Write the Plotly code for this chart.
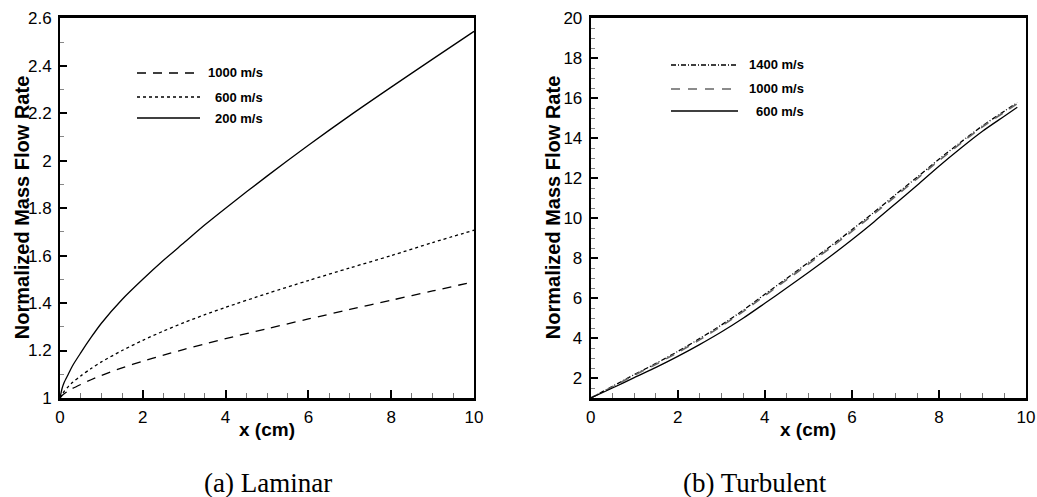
import plotly.graph_objects as go

# ---------------- data ----------------
# (a) Laminar
lam_x = [0, 0.05, 0.1, 0.2, 0.3, 0.5, 0.75, 1, 1.5, 2, 2.5, 3, 3.5, 4, 5, 6, 7, 8, 9, 10]
lam_200 = [1.0, 1.04, 1.065, 1.10, 1.135, 1.19, 1.255, 1.315, 1.415, 1.50, 1.58, 1.655,
           1.73, 1.80, 1.935, 2.065, 2.19, 2.31, 2.428, 2.545]
lam_600 = [1.0, 1.015, 1.028, 1.048, 1.065, 1.093, 1.124, 1.152, 1.20, 1.243, 1.282, 1.318,
           1.351, 1.382, 1.44, 1.495, 1.548, 1.60, 1.655, 1.707]
lam_1000 = [1.0, 1.01, 1.018, 1.03, 1.04, 1.057, 1.077, 1.095, 1.127, 1.155, 1.181, 1.205,
            1.228, 1.25, 1.292, 1.333, 1.373, 1.412, 1.451, 1.49]

# (b) Turbulent
tur_x = [0, 0.5, 1, 1.5, 2, 2.5, 3, 3.5, 4, 4.5, 5, 5.5, 6, 6.5, 7, 7.5, 8, 8.5, 9, 9.5, 9.8]
tur_600 = [1.0, 1.5, 2.02, 2.53, 3.08, 3.67, 4.3, 4.99, 5.74, 6.5, 7.28, 8.08, 8.92,
           9.8, 10.72, 11.65, 12.6, 13.5, 14.35, 15.1, 15.55]
tur_1000 = [1.0, 1.56, 2.14, 2.69, 3.28, 3.91, 4.59, 5.32, 6.12, 6.91, 7.70, 8.50, 9.34,
            10.20, 11.09, 11.98, 12.88, 13.74, 14.57, 15.30, 15.73]
tur_1400 = [1.0, 1.58, 2.17, 2.73, 3.33, 3.97, 4.65, 5.39, 6.19, 6.98, 7.78, 8.58, 9.42,
            10.28, 11.17, 12.05, 12.95, 13.8, 14.62, 15.35, 15.78]

lam_labels = ["1000 m/s", "600 m/s", "200 m/s"]
tur_labels = ["1400 m/s", "1000 m/s", "600 m/s"]
x_title = "x (cm)"
y_title = "Normalized Mass Flow Rate"
captions = ["(a) Laminar", "(b) Turbulent"]

# ---------------- styling ----------------
W, H = 1037, 497
def px_x(p):
    return p / W
def px_y(p):
    return 1 - p / H

FONT = "Liberation Sans, Arial, sans-serif"
SERIF = "Liberation Serif, Times New Roman, serif"
LW = 1.3

styles_lam = {
    "1000 m/s": dict(color="black", width=LW, dash="9px,7px"),
    "600 m/s": dict(color="black", width=LW, dash="3px,3px"),
    "200 m/s": dict(color="black", width=LW, dash="solid"),
}
styles_tur = {
    "1400 m/s": dict(color="black", width=LW, dash="5px,2px,1px,2px"),
    "1000 m/s": dict(color="#666666", width=1.6, dash="9px,8px"),
    "600 m/s": dict(color="black", width=LW, dash="solid"),
}

fig = go.Figure()
for lab, ys in zip(lam_labels, [lam_1000, lam_600, lam_200]):
    fig.add_trace(go.Scatter(x=lam_x, y=ys, mode="lines", name=lab, line=styles_lam[lab],
                             line_shape="spline", line_smoothing=0.8,
                             xaxis="x", yaxis="y", showlegend=False))
for lab, ys in zip(tur_labels, [tur_1400, tur_1000, tur_600]):
    fig.add_trace(go.Scatter(x=tur_x, y=ys, mode="lines", name=lab, line=styles_tur[lab],
                             line_shape="spline", line_smoothing=0.8,
                             xaxis="x2", yaxis="y2", showlegend=False))

# plot area pixel boxes
L_box = (60, 474, 18.3, 398)
R_box = (590.7, 1026, 18.3, 398)

def xaxis_cfg(box):
    return dict(domain=[px_x(box[0]), px_x(box[1])], range=[0, 10], tick0=0, dtick=2,
                automargin=False,
                showline=True, mirror=True, linecolor="black", linewidth=2.5,
                ticks="inside", ticklen=8, tickwidth=2, tickcolor="black",
                minor=dict(ticks="inside", ticklen=5, tickwidth=1, tickcolor="#777", dtick=0.5, tick0=0),
                showgrid=False, zeroline=False,
                tickfont=dict(family=FONT, size=17, color="black"), ticklabelstandoff=2)

def yaxis_cfg(box, rng, t0, dt, mdt):
    return dict(domain=[px_y(box[3]), px_y(box[2])], range=rng, tick0=t0, dtick=dt,
                automargin=False,
                showline=True, mirror=True, linecolor="black", linewidth=2,
                ticks="inside", ticklen=7, tickwidth=2, tickcolor="black",
                minor=dict(ticks="inside", ticklen=4, tickwidth=1, tickcolor="#888", dtick=mdt, tick0=t0),
                showgrid=False, zeroline=False,
                tickfont=dict(family=FONT, size=17, color="black"), ticklabelstandoff=3)

fig.update_layout(
    width=W, height=H, margin=dict(l=0, r=0, t=0, b=0, pad=0), autosize=False,
    paper_bgcolor="white", plot_bgcolor="white",
    xaxis=dict(xaxis_cfg(L_box), anchor="y"),
    yaxis=dict(yaxis_cfg(L_box, [1, 2.6], 1, 0.2, 0.1), anchor="x"),
    xaxis2=dict(xaxis_cfg(R_box), anchor="y2"),
    yaxis2=dict(yaxis_cfg(R_box, [1, 20], 0, 2, 0.5), anchor="x2"),
)

ann = []
shapes = []
# axis titles
for box, ycx in [(L_box, 22), (R_box, 553)]:
    ann.append(dict(x=px_x(ycx), y=px_y((box[2] + box[3]) / 2), xref="paper", yref="paper",
                    text="<b>%s</b>" % y_title, textangle=-90, showarrow=False,
                    xanchor="center", yanchor="middle",
                    font=dict(family=FONT, size=20, color="black")))
    ann.append(dict(x=px_x((box[0] + box[1]) / 2), y=px_y(429), xref="paper", yref="paper",
                    text="<b>%s</b>" % x_title, showarrow=False,
                    xanchor="center", yanchor="middle",
                    font=dict(family=FONT, size=19, color="black")))
# captions
for cx, txt in zip([268, 755], captions):
    ann.append(dict(x=px_x(cx), y=px_y(483), xref="paper", yref="paper", text=txt,
                    showarrow=False, xanchor="center", yanchor="middle",
                    font=dict(family=SERIF, size=27, color="black")))

# legend keys
leg_specs = [
    (lam_labels, styles_lam, 137, 200, 265, [73, 97, 118]),
    (tur_labels, styles_tur, 671, 738, 806, [65, 89, 111]),
]
for labels, sty, x0, x1, xt, rows in leg_specs:
    for lab, ry in zip(labels, rows):
        s = sty[lab]
        shapes.append(dict(type="line", xref="paper", yref="paper",
                           x0=px_x(x0), x1=px_x(x1), y0=px_y(ry), y1=px_y(ry),
                           line=dict(color=s["color"], width=s["width"], dash=s["dash"])))
        ann.append(dict(x=px_x(xt), y=px_y(ry), xref="paper", yref="paper", text="<b>%s</b>" % lab,
                        xanchor="right", yanchor="middle", showarrow=False,
                        font=dict(family=FONT, size=13, color="black")))

fig.update_layout(annotations=ann, shapes=shapes)
fig.write_html("out.html")
